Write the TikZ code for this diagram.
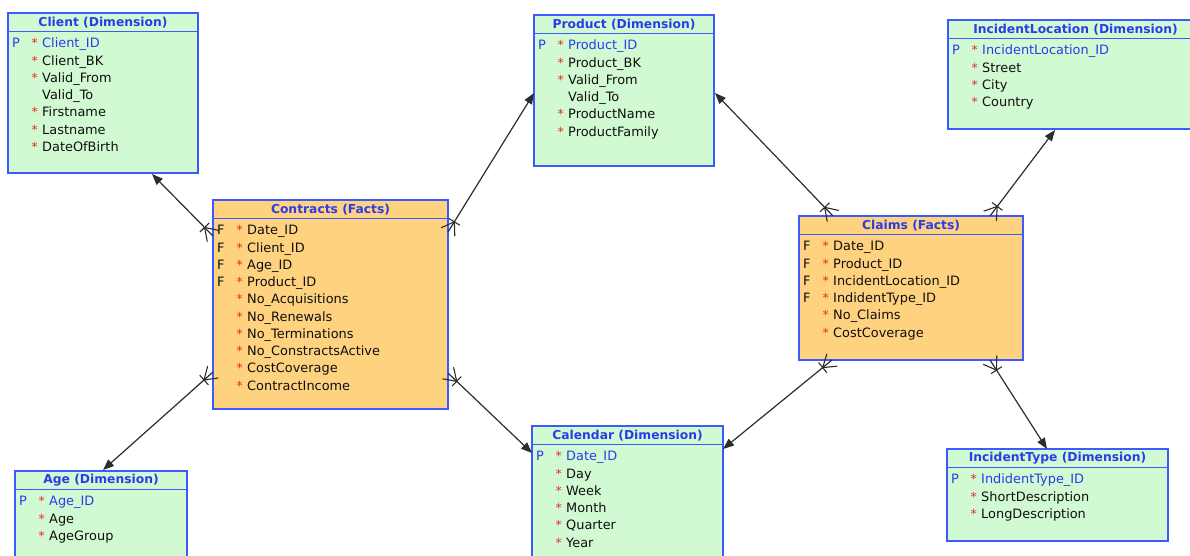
\documentclass[tikz,border=0pt]{standalone}
\usepackage{fontspec}
\setmainfont{DejaVu Sans}
\usetikzlibrary{arrows.meta,decorations.markings,calc}

\definecolor{dimfill}{RGB}{210,250,210}
\definecolor{factfill}{RGB}{255,210,128}
\definecolor{boxblue}{RGB}{60,90,255}
\definecolor{titleblue}{RGB}{40,60,235}
\definecolor{starred}{RGB}{235,40,30}
\definecolor{ink}{RGB}{15,15,15}
\definecolor{linegray}{RGB}{45,45,45}

% one column for the key letter, one for the mandatory mark
\newcommand\keycell[1]{\makebox[19.5pt][l]{#1}}
\newcommand\starcell{\makebox[10.5pt][l]{\textcolor{starred}{\fontsize{12.5}{12.5}\selectfont *}}}
\newcommand\rowstrut{\rule{0pt}{12pt}}
\newcommand\pkrow[1]{\rowstrut\keycell{\textcolor{titleblue}{P}}\starcell\textcolor{titleblue}{#1}}
\newcommand\fkrow[1]{\rowstrut\keycell{F}\starcell#1}
\newcommand\reqrow[1]{\rowstrut\keycell{}\starcell#1}
\newcommand\optrow[1]{\rowstrut\keycell{}\makebox[10.5pt]{}#1}

\tikzset{
  dimbox/.style={draw=boxblue, line width=1.4pt, fill=dimfill, inner sep=0pt, outer sep=0pt},
  factbox/.style={dimbox, fill=factfill},
  seprule/.style={draw=boxblue, line width=1.4pt},
  titletext/.style={text=titleblue, font=\fontsize{12.3}{14}\selectfont\bfseries, inner sep=0pt},
  rowtext/.style={align=left, inner sep=0pt, text=ink, font=\fontsize{12.9}{17.25}\selectfont},
  crowfoot/.style={draw=linegray, line width=1.1pt, arrows=-},
  fk/.style={draw=linegray, line width=1.2pt,
    arrows={Triangle[length=11pt,width=8.5pt]-},
    postaction=decorate,
    decoration={markings, mark=at position 1 with {
      \draw[crowfoot] (-12pt,0pt) -- (0pt,8pt) (-12pt,0pt) -- (0pt,-8pt)
                      (-12pt,-6.5pt) -- (-12pt,6.5pt);}}},
}

% name, style, left, top, width, height, title, rows
\newcommand\ertable[8]{%
  \node[#2, minimum width=#5, minimum height=#6, anchor=north west] (#1) at (#3,#4) {};
  \draw[seprule] ([yshift=-18.5pt]#1.north west) -- ([yshift=-18.5pt]#1.north east);
  \node[titletext] (#1-title) at ([yshift=-9.5pt]#1.north) {#7};
  \node[rowtext, anchor=north west] (#1-rows) at ([xshift=4pt,yshift=-22.6pt]#1.north west) {#8};
}

\begin{document}
\begin{tikzpicture}[x=1pt,y=-1pt]
\useasboundingbox (0,0) rectangle (1190,555);

\ertable{client}{dimbox}{8}{13}{190pt}{160pt}{Client (Dimension)}{%
  \pkrow{Client\_ID}\\ \reqrow{Client\_BK}\\ \reqrow{Valid\_From}\\ \optrow{Valid\_To}\\
  \reqrow{Firstname}\\ \reqrow{Lastname}\\ \reqrow{DateOfBirth}}

\ertable{contracts}{factbox}{213}{200}{235pt}{209pt}{Contracts (Facts)}{%
  \fkrow{Date\_ID}\\ \fkrow{Client\_ID}\\ \fkrow{Age\_ID}\\ \fkrow{Product\_ID}\\
  \reqrow{No\_Acquisitions}\\ \reqrow{No\_Renewals}\\ \reqrow{No\_Terminations}\\
  \reqrow{No\_ConstractsActive}\\ \reqrow{CostCoverage}\\ \reqrow{ContractIncome}}

\ertable{product}{dimbox}{534}{15}{180pt}{151pt}{Product (Dimension)}{%
  \pkrow{Product\_ID}\\ \reqrow{Product\_BK}\\ \reqrow{Valid\_From}\\ \optrow{Valid\_To}\\
  \reqrow{ProductName}\\ \reqrow{ProductFamily}}

\ertable{incloc}{dimbox}{948}{20}{255pt}{109pt}{IncidentLocation (Dimension)}{%
  \pkrow{IncidentLocation\_ID}\\ \reqrow{Street}\\ \reqrow{City}\\ \reqrow{Country}}

\ertable{claims}{factbox}{799}{216}{224pt}{144pt}{Claims (Facts)}{%
  \fkrow{Date\_ID}\\ \fkrow{Product\_ID}\\ \fkrow{IncidentLocation\_ID}\\
  \fkrow{IndidentType\_ID}\\ \reqrow{No\_Claims}\\ \reqrow{CostCoverage}}

\ertable{age}{dimbox}{15}{471}{172pt}{100pt}{Age (Dimension)}{%
  \pkrow{Age\_ID}\\ \reqrow{Age}\\ \reqrow{AgeGroup}}

\ertable{calendar}{dimbox}{532}{426}{191pt}{140pt}{Calendar (Dimension)}{%
  \pkrow{Date\_ID}\\ \reqrow{Day}\\ \reqrow{Week}\\ \reqrow{Month}\\
  \reqrow{Quarter}\\ \reqrow{Year}}

\ertable{inctype}{dimbox}{947}{449}{221pt}{92pt}{IncidentType (Dimension)}{%
  \pkrow{IndidentType\_ID}\\ \reqrow{ShortDescription}\\ \reqrow{LongDescription}}

% relationships: arrow at the referenced dimension, crow's foot at the fact table
\draw[fk] ($(client.south west)+(144,1)$) -- ($(contracts.north west)+(0,36)$);
\draw[fk] ($(product.north west)+(0,78)$) -- ($(contracts.north east)+(0,32)$);
\draw[fk] ($(age.north west)+(88,-1)$) -- ($(contracts.south west)+(0,-37)$);
\draw[fk] ($(calendar.north west)+(0,27)$) -- ($(contracts.south east)+(0,-36)$);
\draw[fk] ($(product.north east)+(1,78)$) -- ($(claims.north west)+(34,0)$);
\draw[fk] ($(incloc.south west)+(107,1)$) -- ($(claims.north west)+(191,0)$);
\draw[fk] ($(calendar.north east)+(0,23)$) -- ($(claims.south west)+(33,0)$);
\draw[fk] ($(inctype.north west)+(100,0)$) -- ($(claims.south west)+(191,0)$);
\end{tikzpicture}
\end{document}
